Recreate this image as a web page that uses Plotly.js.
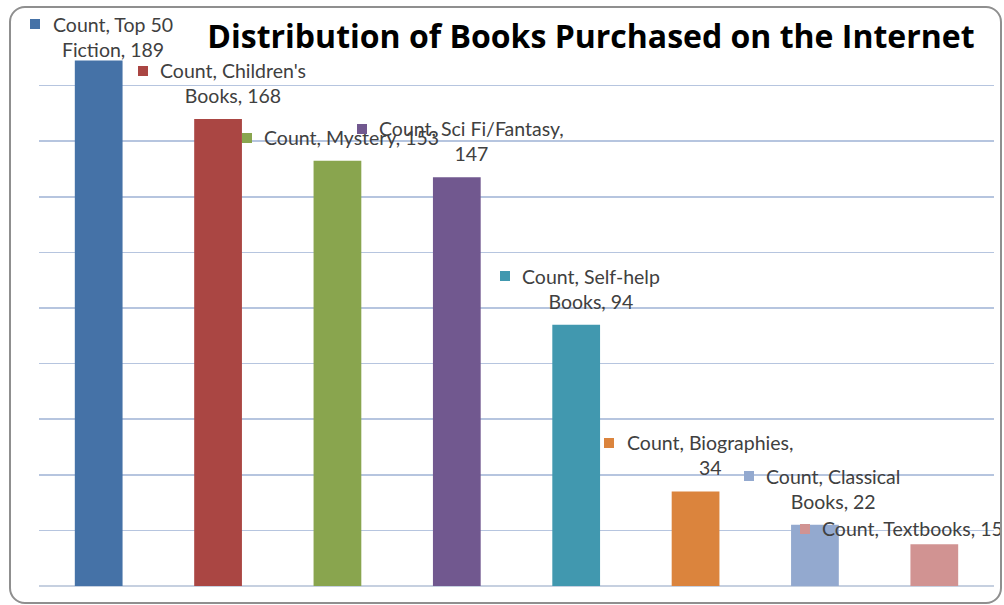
<!DOCTYPE html>
<html>
<head>
<meta charset="utf-8">
<script src="https://cdn.plot.ly/plotly-3.0.1.min.js"></script>
<style>
  html, body { margin: 0; padding: 0; background: #ffffff; }
  #wrap { position: relative; width: 1004px; height: 605px; overflow: hidden; background: #ffffff; }
  #frame { position: absolute; left: 9px; top: 6px; width: 993px; height: 598px;
           border: 2px solid #8f8f8f; border-radius: 16px; box-sizing: border-box; pointer-events: none; z-index: 2; }
  #chart { position: absolute; left: 0; top: 0; width: 1004px; height: 605px; }
</style>
</head>
<body>
<div id="wrap">
  <div id="chart"></div>
  <div id="frame"></div>
</div>
<script>
const seriesName = 'Count';
const categories = ['Top 50 Fiction', "Children's Books", 'Mystery', 'Sci Fi/Fantasy',
                    'Self-help Books', 'Biographies', 'Classical Books', 'Textbooks'];
const counts = [189, 168, 153, 147, 94, 34, 22, 15];
const barColors = ['#4572a7', '#aa4643', '#89a54e', '#71588f', '#4198af', '#db843d', '#93a9cf', '#d19392'];
const yTicks = [0, 20, 40, 60, 80, 100, 120, 140, 160, 180, 200];
const chartTitle = 'Distribution of Books Purchased on the Internet';

// number of trailing words that wrap to a second line in each data label
const wrapWords = [2, 2, 0, 1, 2, 1, 2, 0];
// label nudges in pixels (layout only)
const labelXShift = [14, 15, 14, 15, 15, 14, 18, -22];
const labelYShift = [-2, 10, 10, 10, 10, 10, 10, 2];

const LABEL_FONT = 19.5;
const LABEL_FAMILY = 'Lato';
const LINE_H = LABEL_FONT * 1.3;

function labelLines(i) {
  const words = (seriesName + ', ' + categories[i] + ', ' + counts[i]).split(' ');
  const n = wrapWords[i];
  const l1 = words.slice(0, words.length - n).join(' ');
  const l2 = words.slice(words.length - n).join(' ');
  return n > 0 ? [l1, l2] : [l1];
}

const ctx = document.createElement('canvas').getContext('2d');
ctx.font = LABEL_FONT + 'px ' + LABEL_FAMILY;

const trace = {
  type: 'bar',
  x: categories,
  y: counts,
  marker: { color: barColors, line: { width: 0 } },
  hoverinfo: 'x+y'
};

const annotations = [];
categories.forEach((c, i) => {
  const lines = labelLines(i);
  annotations.push({
    x: c, y: counts[i], xref: 'x', yref: 'y',
    text: lines.join('<br>'),
    showarrow: false,
    xanchor: 'center', yanchor: 'bottom', align: 'center',
    xshift: labelXShift[i], yshift: labelYShift[i],
    font: { family: LABEL_FAMILY + ', "Noto Sans", sans-serif', size: LABEL_FONT, color: '#404040' }
  });
  // legend key square to the left of the first line
  const w1 = ctx.measureText(lines[0]).width;
  const right = labelXShift[i] - w1 / 2 - 12;
  const cy = labelYShift[i] + 12 + (lines.length - 1) * LINE_H + 1;
  annotations.push({
    x: c, y: counts[i], xref: 'x', yref: 'y',
    text: ' ', showarrow: false,
    width: 10, height: 10, borderpad: 0, borderwidth: 0,
    bgcolor: barColors[i],
    font: { size: 6, color: barColors[i] },
    xanchor: 'right', yanchor: 'middle',
    xshift: right, yshift: cy
  });
});

const layout = {
  width: 1004, height: 605,
  margin: { l: 39, r: 10, t: 30, b: 19, pad: 0 },
  paper_bgcolor: '#ffffff', plot_bgcolor: '#ffffff',
  showlegend: false,
  bargap: 0.6,
  title: {
    text: '<b>' + chartTitle + '</b>',
    font: { family: '"Open Sans", sans-serif', size: 32, color: '#000000' },
    x: 0.5886, xanchor: 'center', xref: 'container',
    y: 0.94, yanchor: 'middle', yref: 'container'
  },
  xaxis: { range: [-0.5, 7.5], showticklabels: false, showgrid: false, zeroline: false, showline: false, ticks: '' },
  yaxis: { range: [0, 200], tickvals: yTicks, showticklabels: false, showgrid: true,
           gridcolor: '#b6c5df', gridwidth: 1.5, zeroline: true, zerolinecolor: '#c6d0e0', zerolinewidth: 1.5,
           showline: false, ticks: '' },
  annotations: annotations
};

Plotly.newPlot('chart', [trace], layout, { displayModeBar: false, staticPlot: true });
</script>
</body>
</html>
